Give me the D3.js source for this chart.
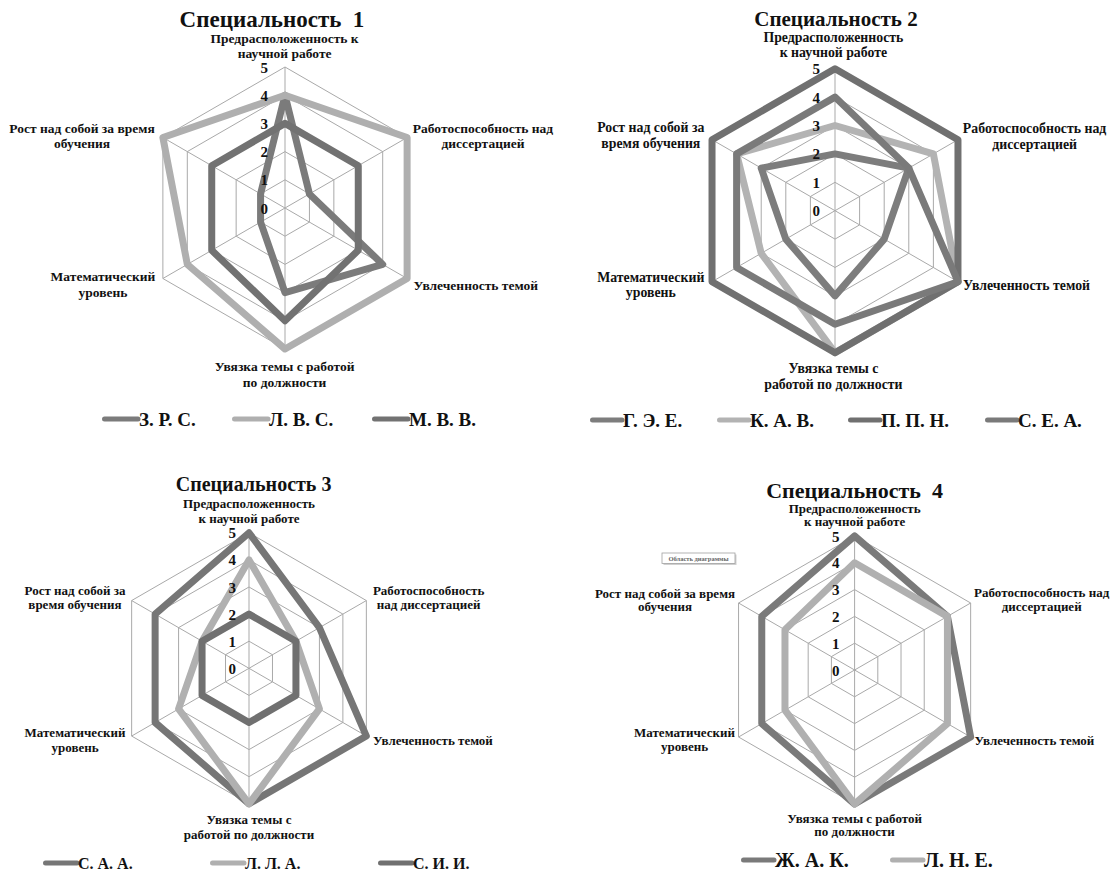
<!DOCTYPE html>
<html><head><meta charset="utf-8">
<script src="https://cdn.jsdelivr.net/npm/d3@7"></script>
<style>
body{margin:0;background:#fff}
svg{display:block}
text, tspan{font-family:"Liberation Serif","Times New Roman",serif;font-weight:bold;fill:#111}
</style>
</head><body>
<svg id="c" width="1111" height="870"></svg>
<script>
// ---------- DATA ----------
const ticks = [0, 1, 2, 3, 4, 5];
const categories = [
  "Предрасположенность к научной работе",
  "Работоспособность над диссертацией",
  "Увлеченность темой",
  "Увязка темы с работой по должности",
  "Математический уровень",
  "Рост над собой за время обучения"
];
const labelLines1 = [["Предрасположенность к","научной работе"],["Работоспособность над","диссертацией"],["Увлеченность темой"],["Увязка темы с работой","по должности"],["Математический","уровень"],["Рост над собой за время","обучения"]];
const labelLines2 = [["Предрасположенность","к научной работе"],["Работоспособность над","диссертацией"],["Увлеченность темой"],["Увязка темы с","работой по должности"],["Математический","уровень"],["Рост над собой за","время обучения"]];
const labelLines3 = [["Предрасположенность","к научной работе"],["Работоспособность","над диссертацией"],["Увлеченность темой"],["Увязка темы с","работой по должности"],["Математический","уровень"],["Рост над собой за","время обучения"]];
const labelLines4 = [["Предрасположенность","к научной работе"],["Работоспособность над","диссертацией"],["Увлеченность темой"],["Увязка темы с работой","по должности"],["Математический","уровень"],["Рост над собой за время","обучения"]];

const titles = ["Специальность  1", "Специальность 2", "Специальность 3", "Специальность  4"];

const names1 = ["З. Р. С.", "Л. В. С.", "М. В. В."];
const values1 = [[4,1,4,3,1,1],[4,5,5,5,4,5],[3,3,3,4,3,3]];
const names2 = ["Г. Э. Е.", "К. А. В.", "П. П. Н.", "С. Е. А."];
const values2 = [[2,3,2,3,2,3],[3,4,5,5,3,4],[5,5,5,5,5,5],[4,3,5,4,4,4]];
const names3 = ["С. А. А.", "Л. Л. А.", "С. И. И."];
const values3 = [[5,3,5,5,4,4],[4,2,3,5,3,2],[2,2,2,2,2,2]];
const names4 = ["Ж. А. К.", "Л. Н. Е."];
const values4 = [[5,4,5,5,4,4],[4,4,4,5,3,3]];

// ---------- LAYOUT / STYLE ----------
const SERIF = "'Liberation Serif','Times New Roman',serif";
const charts = [
  { names: names1, values: values1, lines: labelLines1, title: titles[0],
    colors: ["#7b7b7b","#afafaf","#727272"],
    cx: 285, cy: 208, r: 141,
    titleX: 272, titleY: 27, titleSize: 23,
    labelSize: 13.5, lineH: 15.3,
    labelPos: [[284.6,38.5],[483,128.3],[475.8,285],[284.6,366.7],[103,276.7],[82,128.3]],
    tickDx: 17, tickSize: 15,
    legendY: 419, legendX: [102,232,372], legendLen: 37, legendSize: 19 },
  { names: names2, values: values2, lines: labelLines2, title: titles[1],
    colors: ["#7d7d7d","#b3b3b3","#707070","#7a7a7a"],
    cx: 835, cy: 210.7, r: 142,
    titleX: 836, titleY: 25.5, titleSize: 21,
    labelSize: 13.8, lineH: 15.8,
    labelPos: [[833.4,37],[1034.6,128.3],[1026.5,285],[833.4,368.3],[650.8,277],[650.8,127.7]],
    tickDx: 15, tickSize: 15,
    legendY: 420, legendX: [590,717,848,985], legendLen: 33, legendSize: 19 },
  { names: names3, values: values3, lines: labelLines3, title: titles[2],
    colors: ["#767676","#b0b0b0","#707070"],
    cx: 249, cy: 668.3, r: 135.5,
    titleX: 253.6, titleY: 490.7, titleSize: 20,
    labelSize: 13, lineH: 14.7,
    labelPos: [[249,503.3],[428.6,590],[433,740],[249,819.3],[75,732.7],[75,590]],
    tickDx: 13, tickSize: 15,
    legendY: 863, legendX: [43,210,378], legendLen: 35, legendSize: 16 },
  { names: names4, values: values4, lines: labelLines4, title: titles[3],
    colors: ["#7a7a7a","#b0b0b0"],
    cx: 854.6, cy: 670, r: 134,
    titleX: 854.6, titleY: 498, titleSize: 22,
    labelSize: 13, lineH: 13.6,
    labelPos: [[854.6,508.3],[1041.7,592.7],[1034.5,740],[854.6,818.3],[684.5,732.7],[665,593.3]],
    tickDx: 15, tickSize: 15,
    legendY: 860, legendX: [741,890], legendLen: 34, legendSize: 20 }
];

const svg = d3.select("#c");
const angle = i => i * 2 * Math.PI / categories.length;

charts.forEach(ch => {
  const g = svg.append("g");
  const rScale = d3.scaleLinear().domain([0, 5]).range([0, ch.r]);
  const plot = g.append("g").attr("transform", `translate(${ch.cx},${ch.cy})`);
  const radial = d3.lineRadial()
    .angle((d, i) => angle(i))
    .radius(d => rScale(d))
    .curve(d3.curveLinearClosed);

  // grid rings
  plot.selectAll("path.ring").data(ticks.filter(t => t > 0)).join("path")
    .attr("class", "ring")
    .attr("d", t => radial(categories.map(() => t)))
    .attr("fill", "none").attr("stroke", "#a9a9a9").attr("stroke-width", 1);
  // spokes
  plot.selectAll("line.spoke").data(categories).join("line")
    .attr("class", "spoke")
    .attr("x1", 0).attr("y1", 0)
    .attr("x2", (d, i) => rScale(5) * Math.sin(angle(i)))
    .attr("y2", (d, i) => -rScale(5) * Math.cos(angle(i)))
    .attr("stroke", "#a9a9a9").attr("stroke-width", 1);

  // series
  plot.selectAll("path.series").data(ch.values).join("path")
    .attr("class", "series")
    .attr("d", v => radial(v))
    .attr("fill", "none")
    .attr("stroke", (d, i) => ch.colors[i])
    .attr("stroke-width", 7)
    .attr("stroke-linejoin", "round");

  // tick labels
  plot.selectAll("text.tick").data(ticks).join("text")
    .attr("class", "tick")
    .attr("x", -ch.tickDx)
    .attr("y", t => -rScale(t) + 0.5)
    .attr("text-anchor", "end")
    .attr("dominant-baseline", "central")
    .attr("font-family", SERIF).attr("font-weight", "bold")
    .style("font-size", ch.tickSize + "px")
    .text(t => t);

  // category labels
  ch.lines.forEach((lines, i) => {
    const [x, y] = ch.labelPos[i];
    const t = g.append("text")
      .attr("text-anchor", "middle")
      .attr("font-family", SERIF).attr("font-weight", "bold")
      .style("font-size", ch.labelSize + "px");
    lines.forEach((ln, k) => {
      t.append("tspan").attr("x", x).attr("y", y + k * ch.lineH)
        .attr("dominant-baseline", "central").text(ln);
    });
  });

  // title
  g.append("text")
    .attr("x", ch.titleX).attr("y", ch.titleY)
    .attr("text-anchor", "middle")
    .attr("font-family", SERIF).attr("font-weight", "bold")
    .style("font-size", ch.titleSize + "px")
    .style("white-space", "pre")
    .attr("xml:space", "preserve")
    .text(ch.title);

  // legend
  const lg = g.selectAll("g.leg").data(ch.names).join("g").attr("class", "leg")
    .attr("transform", (d, i) => `translate(${ch.legendX[i]},${ch.legendY})`);
  lg.append("line")
    .attr("x1", 2.5).attr("x2", ch.legendLen - 1).attr("y1", 0).attr("y2", 0)
    .attr("stroke", (d, i) => ch.colors[i])
    .attr("stroke-width", 5).attr("stroke-linecap", "round");
  lg.append("text")
    .attr("x", ch.legendLen).attr("y", 0)
    .attr("dominant-baseline", "central")
    .attr("font-family", SERIF).attr("font-weight", "bold")
    .style("font-size", ch.legendSize + "px")
    .text(d => d);
});

// tooltip box seen in the fourth chart ("Область диаграммы")
const tip = svg.append("g").attr("transform", "translate(662,553)");
tip.append("rect").attr("x", 1.5).attr("y", 1.5).attr("width", 73).attr("height", 10.5)
  .attr("fill", "#d0d0d0");
tip.append("rect").attr("x", 0).attr("y", 0).attr("width", 73).attr("height", 10.5)
  .attr("fill", "#fff").attr("stroke", "#a0a0a0").attr("stroke-width", 0.8);
tip.append("text").attr("x", 36.5).attr("y", 5.5)
  .attr("text-anchor", "middle").attr("dominant-baseline", "central")
  .attr("font-family", "'Liberation Sans', Arial, sans-serif")
  .attr("font-weight", "normal").style("font-size", "6.5px").style("fill", "#666")
  .text("Область диаграммы");
</script>
</body></html>
